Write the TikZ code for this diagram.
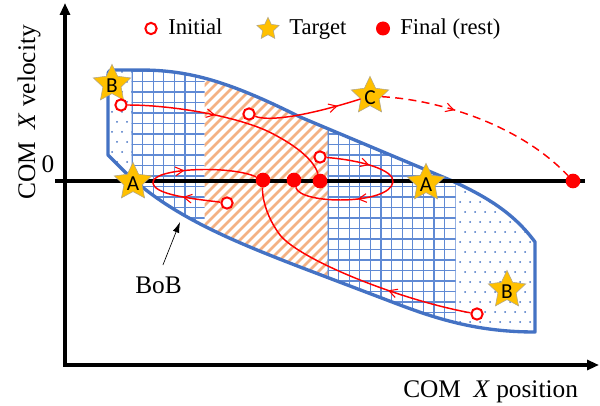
\documentclass[tikz,border=0pt]{standalone}
\usepackage{fontspec}
\setmainfont{Liberation Serif}
\newfontfamily\starfont{Carlito}
\usetikzlibrary{shapes.geometric,arrows.meta,decorations.markings}
\definecolor{bobblue}{RGB}{68,114,196}
\definecolor{gridblue}{RGB}{96,138,212}
\definecolor{hatchor}{RGB}{244,177,131}
\definecolor{starfill}{RGB}{255,192,0}
\definecolor{starline}{RGB}{175,165,140}
\definecolor{trajred}{RGB}{255,0,0}
\newcommand\bobpath{(108,155) -- (108,75) .. controls (108,71) and (110,70) .. (114,70) -- (140,70) .. controls (190,70) and (230,82) .. (300,117) -- (450,180) .. controls (490,198) and (515,215) .. (535,242) -- (535,332) .. controls (480,332) and (440,320) .. (400,305) -- (300,267) .. controls (230,240) and (170,215) .. (125,172) -- cycle}
\tikzset{trajtip/.tip={Straight Barb[length=6pt,width=6.5pt,line width=0.8pt]}}
\begin{document}
\begin{tikzpicture}[x=0.75pt,y=-0.75pt,
  lbl/.style={font=\fontsize{19}{22}\selectfont, inner sep=0pt},
  leglbl/.style={font=\fontsize{17}{20}\selectfont, inner sep=0pt},
  initc/.style={circle, draw=trajred, fill=white, line width=1.5pt, minimum size=8.5pt, inner sep=0pt},
  finc/.style={circle, fill=trajred, minimum size=11pt, inner sep=0pt},
  tstar/.style={star, star points=5, star point ratio=2.05, fill=starfill, draw=starline, line width=0.4pt, minimum size=29.5pt, inner sep=0pt},
  tstarsm/.style={tstar, minimum size=17.5pt},
  starlbl/.style={font=\starfont\fontsize{16}{18}\selectfont, inner sep=0pt, yshift=-1pt},
  traj/.style={draw=trajred, line width=1.1pt},
  gridl/.style={draw=gridblue, line width=0.8pt},
  hatchl/.style={draw=hatchor, line width=2pt},
  axisl/.style={draw=black, line width=2.5pt},
  dotc/.style={fill=bobblue},
  mone/.style={postaction={decorate, decoration={markings, mark=at position #1 with {\arrow{trajtip}}}}},
  mtwo/.style 2 args={postaction={decorate, decoration={markings, mark=at position #1 with {\arrow{trajtip}}, mark=at position #2 with {\arrow{trajtip}}}}}
]
\fill[white] (0,0) rectangle (600,406);
\useasboundingbox (0,0) rectangle (600,406);

% dotted region left
\begin{scope}
\clip \bobpath;
\clip (100,60) rectangle (132,200);
\foreach \yy in {72,92,...,172} {
  \foreach \xx in {112,122,132} \fill[dotc] (\xx,\yy) circle (0.75pt);
  \foreach \xx in {117,127} \fill[dotc] (\xx,\yy+10) circle (0.75pt);
}
\end{scope}
% grid left
\begin{scope}
\clip \bobpath;
\clip (131.5,0) rectangle (204.5,406);
\foreach \xx in {132,142.6,...,205} \draw[gridl] (\xx,60) -- (\xx,250);
\foreach \yy in {71,81.5,...,250} \draw[gridl] (120,\yy) -- (215,\yy);
\end{scope}
% hatched middle
\begin{scope}
\clip \bobpath;
\clip (204.5,0) rectangle (328,406);
\foreach \s in {-40,-30,...,340} \draw[hatchl] (\s,300) -- (\s+260,40);
\end{scope}
% grid right
\begin{scope}
\clip \bobpath;
\clip (327.5,0) rectangle (455.5,406);
\foreach \xx in {328,338.6,...,456} \draw[gridl] (\xx,100) -- (\xx,340);
\foreach \yy in {71,81.5,...,340} \draw[gridl] (320,\yy) -- (460,\yy);
\end{scope}
% dotted region right
\begin{scope}
\clip \bobpath;
\clip (456,0) rectangle (540,406);
\foreach \yy in {182,202,...,342} {
  \foreach \xx in {460,470,...,540} \fill[dotc] (\xx,\yy) circle (0.75pt);
  \foreach \xx in {465,475,...,540} \fill[dotc] (\xx,\yy+10) circle (0.75pt);
}
\end{scope}
% outline
\draw[bobblue, line width=2.5pt, line join=round] \bobpath;

% zero velocity line
\coordinate (zl) at (55,181);
\coordinate (zr) at (585,181);
\draw[line width=3pt] (zl) -- (zr);

% axes
\coordinate (yt) at (65,3);
\coordinate (orig) at (65,365);
\coordinate (xt) at (599,365);
\draw[axisl, line join=miter, {Triangle[length=9pt,width=7.5pt]}-{Triangle[length=9pt,width=7.5pt]}] (yt) -- (orig) -- (xt);

% labels
\node[lbl] (zero) at (48,164) {0};
\node[lbl, rotate=90, anchor=base west] (ylab) at (35,200) {COM\hspace{0.5em}\textit{X} velocity};
\node[lbl, anchor=base west] (xlab) at (403,397) {COM\hspace{0.5em}\textit{X} position};
\node[lbl, anchor=base west] (bobl) at (135,293) {BoB};
\coordinate (bobtip) at (180,222);
\draw[line width=0.5pt, shorten <=9pt, -{Latex[length=8pt,width=5pt]}] (bobl.north) -- (bobtip);

% legend
\node[initc] (legi) at (151,28.5) {};
\node[leglbl, anchor=base west] (legit) at (168,35) {Initial};
\node[tstarsm] (legs) at (268,29) {};
\node[leglbl, anchor=base west] (legst) at (289,35) {Target};
\node[finc, minimum size=10.5pt] (legf) at (383,28.5) {};
\node[leglbl, anchor=base west] (legft) at (400,35) {Final (rest)};

% targets
\node[tstar] (sB1) at (112,84) {};
\node[starlbl] (sB1t) at (sB1) {B};
\node[tstar] (sA1) at (133,182) {};
\node[starlbl] (sA1t) at (sA1) {A};
\node[tstar] (sC) at (370,96) {};
\node[starlbl] (sCt) at (sC) {C};
\node[tstar] (sA2) at (426,183) {};
\node[starlbl] (sA2t) at (sA2) {A};
\node[tstar] (sB2) at (507,290) {};
\node[starlbl] (sB2t) at (sB2) {B};

% initial and final states
\node[initc] (i1) at (121,105) {};
\node[initc] (i2) at (249,114) {};
\node[initc] (i3) at (320,157) {};
\node[initc] (i4) at (227,203) {};
\node[initc] (i5) at (477,314) {};
\node[finc] (f1) at (263,180) {};
\node[finc] (f2) at (294,180) {};
\node[finc] (f3) at (320,181) {};
\node[finc] (f4) at (573,181) {};

% trajectories
\draw[traj, mone=0.42] (i1) .. controls (170,105) and (230,115) .. (265,130) .. controls (295,144) and (314,160) .. (f3);
\draw[traj, mone=0.78] (i2) .. controls (270,122) and (310,115) .. (sC);
\draw[traj, dash pattern=on 6pt off 4pt, mone=0.36] (sC) .. controls (440,100) and (520,125) .. (f4);
\draw[traj, mtwo={0.21}{0.6}] (i4) .. controls (195,199) and (152,195) .. (153,182) .. controls (154,168) and (230,165) .. (f1);
\draw[traj, mtwo={0.24}{0.64}] (i3) .. controls (360,160) and (395,170) .. (393,182) .. controls (390,205) and (300,205) .. (f2);
\draw[traj, mone=0.33] (i5) .. controls (400,300) and (300,260) .. (280,235) .. controls (265,215) and (262,195) .. (f1);
\end{tikzpicture}
\end{document}
